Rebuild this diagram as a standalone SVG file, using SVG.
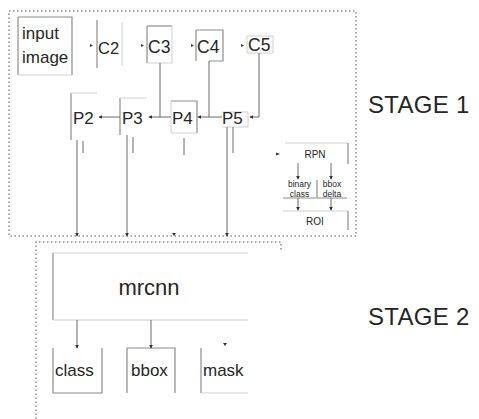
<svg xmlns="http://www.w3.org/2000/svg" width="479" height="419" viewBox="0 0 479 419">
<style>
.t{font-family:"Liberation Sans",Arial,sans-serif;fill:#262626}
.dot{fill:none;stroke:#8a8a8a;stroke-width:1.5;stroke-dasharray:1.5 2.5}
.e{fill:none;stroke:#8c8c8c;stroke-width:1.2}
.f{fill:none;stroke:#d0d0d0;stroke-width:1}
.c{fill:none;stroke:#6a6a6a;stroke-width:1}
.ah{fill:#333}
</style>
<defs>
<marker id="a" viewBox="0 0 6 6" refX="5" refY="3" markerWidth="4" markerHeight="4" orient="auto"><path d="M0,0L6,3L0,6z" fill="#333"/></marker>
</defs>
<rect width="479" height="419" fill="#fff"/>
<g id="stage1-frame">
<path class="dot" d="M9,11H356V236H9Z"/>
</g>
<g id="stage2-frame">
<path class="dot" d="M36,419V242H281V250"/>
</g>
<g id="input">
<path class="e" d="M18,17H72V75"/><path class="e" d="M18,17V75"/><path class="f" d="M18,75H72"/>
<text class="t" x="22" y="39" font-size="17">input</text>
<text class="t" x="22" y="63" font-size="17">image</text>
</g>
<g id="C2"><path class="e" d="M97,20V68"/><path class="f" d="M122,22V66"/><text class="t" x="98" y="54" font-size="16.5">C2</text></g>
<g id="C3"><path class="e" d="M147,26H172"/><path class="e" d="M147,26V63"/><path class="f" d="M147,63H172V26"/><text class="t" x="148" y="53" font-size="17.5">C3</text></g>
<g id="C4"><path class="e" d="M196,30H223V61H209"/><path class="e" d="M196,30V61"/><text class="t" x="197" y="53" font-size="17.5">C4</text></g>
<g id="C5"><path class="f" d="M247,36H273V53H247Z"/><text class="t" x="248" y="51" font-size="17.5">C5</text></g>
<g id="P2"><path class="e" d="M71,93V140"/><path class="f" d="M71,93H97"/><text class="t" x="73" y="124" font-size="17">P2</text></g>
<g id="P3"><path class="e" d="M120,98V135"/><path class="f" d="M120,98H147"/><text class="t" x="122" y="124" font-size="17">P3</text></g>
<g id="P4"><path class="e" d="M171,101H197V133"/><path class="f" d="M171,101V133H197"/><text class="t" x="172" y="124" font-size="17">P4</text></g>
<g id="P5"><path class="f" d="M222,112H248V127H222"/><text class="t" x="222" y="124" font-size="17">P5</text></g>
<g id="RPN"><path class="f" d="M285,143H348"/><path class="e" d="M348,143V164"/><text class="t" x="315" y="158" font-size="10" text-anchor="middle">RPN</text></g>
<g id="binary"><path class="e" d="M283,198H316"/><text class="t" x="299.5" y="187" font-size="8.5" text-anchor="middle">binary</text><text class="t" x="299.5" y="196.5" font-size="8.5" text-anchor="middle">class</text></g>
<g id="bboxdelta"><path class="e" d="M317,180V198H347"/><text class="t" x="332" y="187" font-size="8.5" text-anchor="middle">bbox</text><text class="t" x="332" y="196.5" font-size="8.5" text-anchor="middle">delta</text></g>
<g id="ROI"><path class="f" d="M283,211H348"/><path class="e" d="M348,211V230"/><text class="t" x="315" y="225" font-size="10" text-anchor="middle">ROI</text></g>
<g id="mrcnn"><path class="e" d="M53,253V320"/><path class="f" d="M53,253H248M53,320H248"/><text class="t" x="149" y="295" font-size="22" text-anchor="middle">mrcnn</text></g>
<g id="class"><path class="e" d="M53,348V393H102V348"/><text class="t" x="55" y="376" font-size="17">class</text></g>
<g id="bbox"><path class="e" d="M127,393V348H175V393"/><text class="t" x="131" y="376" font-size="17">bbox</text></g>
<g id="mask"><path class="e" d="M201,348V393"/><path class="f" d="M201,393H248"/><text class="t" x="203" y="376" font-size="17">mask</text></g>
<g id="stage-labels">
<text class="t" x="368" y="113" font-size="24" letter-spacing="0.3">STAGE 1</text>
<text class="t" x="368" y="325" font-size="24" letter-spacing="0.3">STAGE 2</text>
</g>
<g id="connectors">
<path class="ah" d="M90,44L93,45.5L90,47z"/>
<path class="ah" d="M141,44L144,45.5L141,47z"/>
<path class="ah" d="M191,44L194,45.5L191,47z"/>
<path class="ah" d="M241,44L244,45.5L241,47z"/>
<path class="c" d="M160,63V117"/>
<path class="c" d="M209,61V117"/>
<path class="c" d="M259,53V117H250" marker-end="url(#a)"/>
<path class="c" d="M222,117H198" marker-end="url(#a)"/>
<path class="c" d="M171,117H149" marker-end="url(#a)"/>
<path class="c" d="M120,117H99" marker-end="url(#a)"/>
<path class="c" d="M77,140V236" marker-end="url(#a)"/>
<path class="c" d="M83,141V153"/>
<path class="c" d="M127,135V236" marker-end="url(#a)"/>
<path class="c" d="M133,137V153"/>
<path class="c" d="M184,138V155"/>
<path class="ah" d="M172,233L176,233L174,236z"/>
<path class="c" d="M227,127V236" stroke-width="1.8" marker-end="url(#a)"/>
<path class="c" d="M233,127V153"/>
<path class="ah" d="M276,152.5L280,154L276,155.5z"/>
<path class="c" d="M298,163V179" marker-end="url(#a)"/>
<path class="c" d="M331,163V179" marker-end="url(#a)"/>
<path class="c" d="M298,198V210" marker-end="url(#a)"/>
<path class="c" d="M331,198V210" marker-end="url(#a)"/>
<path class="c" d="M77,320V348" marker-end="url(#a)"/>
<path class="c" d="M151,320V348" marker-end="url(#a)"/>
<path class="ah" d="M223,343L227,343L225,346z"/>
</g>
</svg>
